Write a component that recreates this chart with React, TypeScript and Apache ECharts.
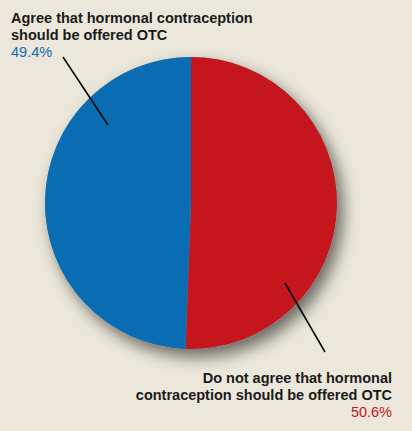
import React, { useEffect, useRef } from "react";
import * as echarts from "echarts";

const categories = [
  "Do not agree that hormonal contraception should be offered OTC",
  "Agree that hormonal contraception should be offered OTC",
];
const values = [50.6, 49.4];
const colors = ["#C6161D", "#0A6DB4"];
const labelLines = [
  ["Do not agree that hormonal", "contraception should be offered OTC"],
  ["Agree that hormonal contraception", "should be offered OTC"],
];

export default function App() {
  const ref = useRef<HTMLDivElement>(null);
  useEffect(() => {
    if (!ref.current) return;
    const chart = echarts.init(ref.current, undefined, { renderer: "svg" });
    const font = "'Liberation Sans', Arial, Helvetica, sans-serif";
    const fs = 14.5;
    chart.setOption({
      animation: false,
      backgroundColor: "#EBE7DA",
      series: [
        {
          type: "pie",
          center: [191, 203],
          radius: [0, 146],
          z: 1,
          silent: true,
          label: { show: false },
          labelLine: { show: false },
          itemStyle: {
            color: "#8a8880",
            shadowBlur: 16,
            shadowOffsetX: 6,
            shadowOffsetY: 8,
            shadowColor: "rgba(0,0,0,0.55)",
          },
          data: [{ name: "shadow", value: 1 }],
        },
        {
          type: "pie",
          center: [191, 203],
          radius: [0, 146],
          z: 2,
          startAngle: 90,
          clockwise: true,
          label: { show: false },
          labelLine: { show: false },
          silent: true,
          data: categories.map((c, i) => ({
            name: c,
            value: values[i],
            itemStyle: { color: colors[i] },
          })),
        },
      ],
      graphic: [
        {
          type: "text",
          left: 11,
          top: 9,
          z: 100,
          style: {
            text: labelLines[1].join("\n"),
            fontFamily: font,
            fontSize: fs,
            fontWeight: "bold",
            lineHeight: 17,
            fill: "#1A1A1A",
          },
        },
        {
          type: "text",
          left: 11,
          top: 43,
          z: 100,
          style: {
            text: values[1].toFixed(1) + "%",
            fontFamily: font,
            fontSize: fs,
            lineHeight: 17,
            fill: colors[1],
          },
        },
        {
          type: "text",
          right: 20,
          top: 369,
          z: 100,
          style: {
            text: labelLines[0].join("\n"),
            fontFamily: font,
            fontSize: fs,
            fontWeight: "bold",
            lineHeight: 17,
            fill: "#1A1A1A",
            textAlign: "right",
          },
        },
        {
          type: "line",
          z: 100,
          shape: { x1: 63, y1: 57, x2: 108, y2: 125 },
          style: { stroke: "#000", lineWidth: 1.5 },
        },
        {
          type: "line",
          z: 100,
          shape: { x1: 285, y1: 283, x2: 325, y2: 352 },
          style: { stroke: "#000", lineWidth: 1.5 },
        },
        {
          type: "text",
          right: 20,
          top: 403,
          z: 100,
          style: {
            text: values[0].toFixed(1) + "%",
            fontFamily: font,
            fontSize: fs,
            lineHeight: 17,
            fill: colors[0],
            textAlign: "right",
          },
        },
      ],
    });
    return () => chart.dispose();
  }, []);
  return (
    <div
      ref={ref}
      style={{ position: "fixed", left: 0, top: 0, width: 412, height: 431 }}
    />
  );
}
